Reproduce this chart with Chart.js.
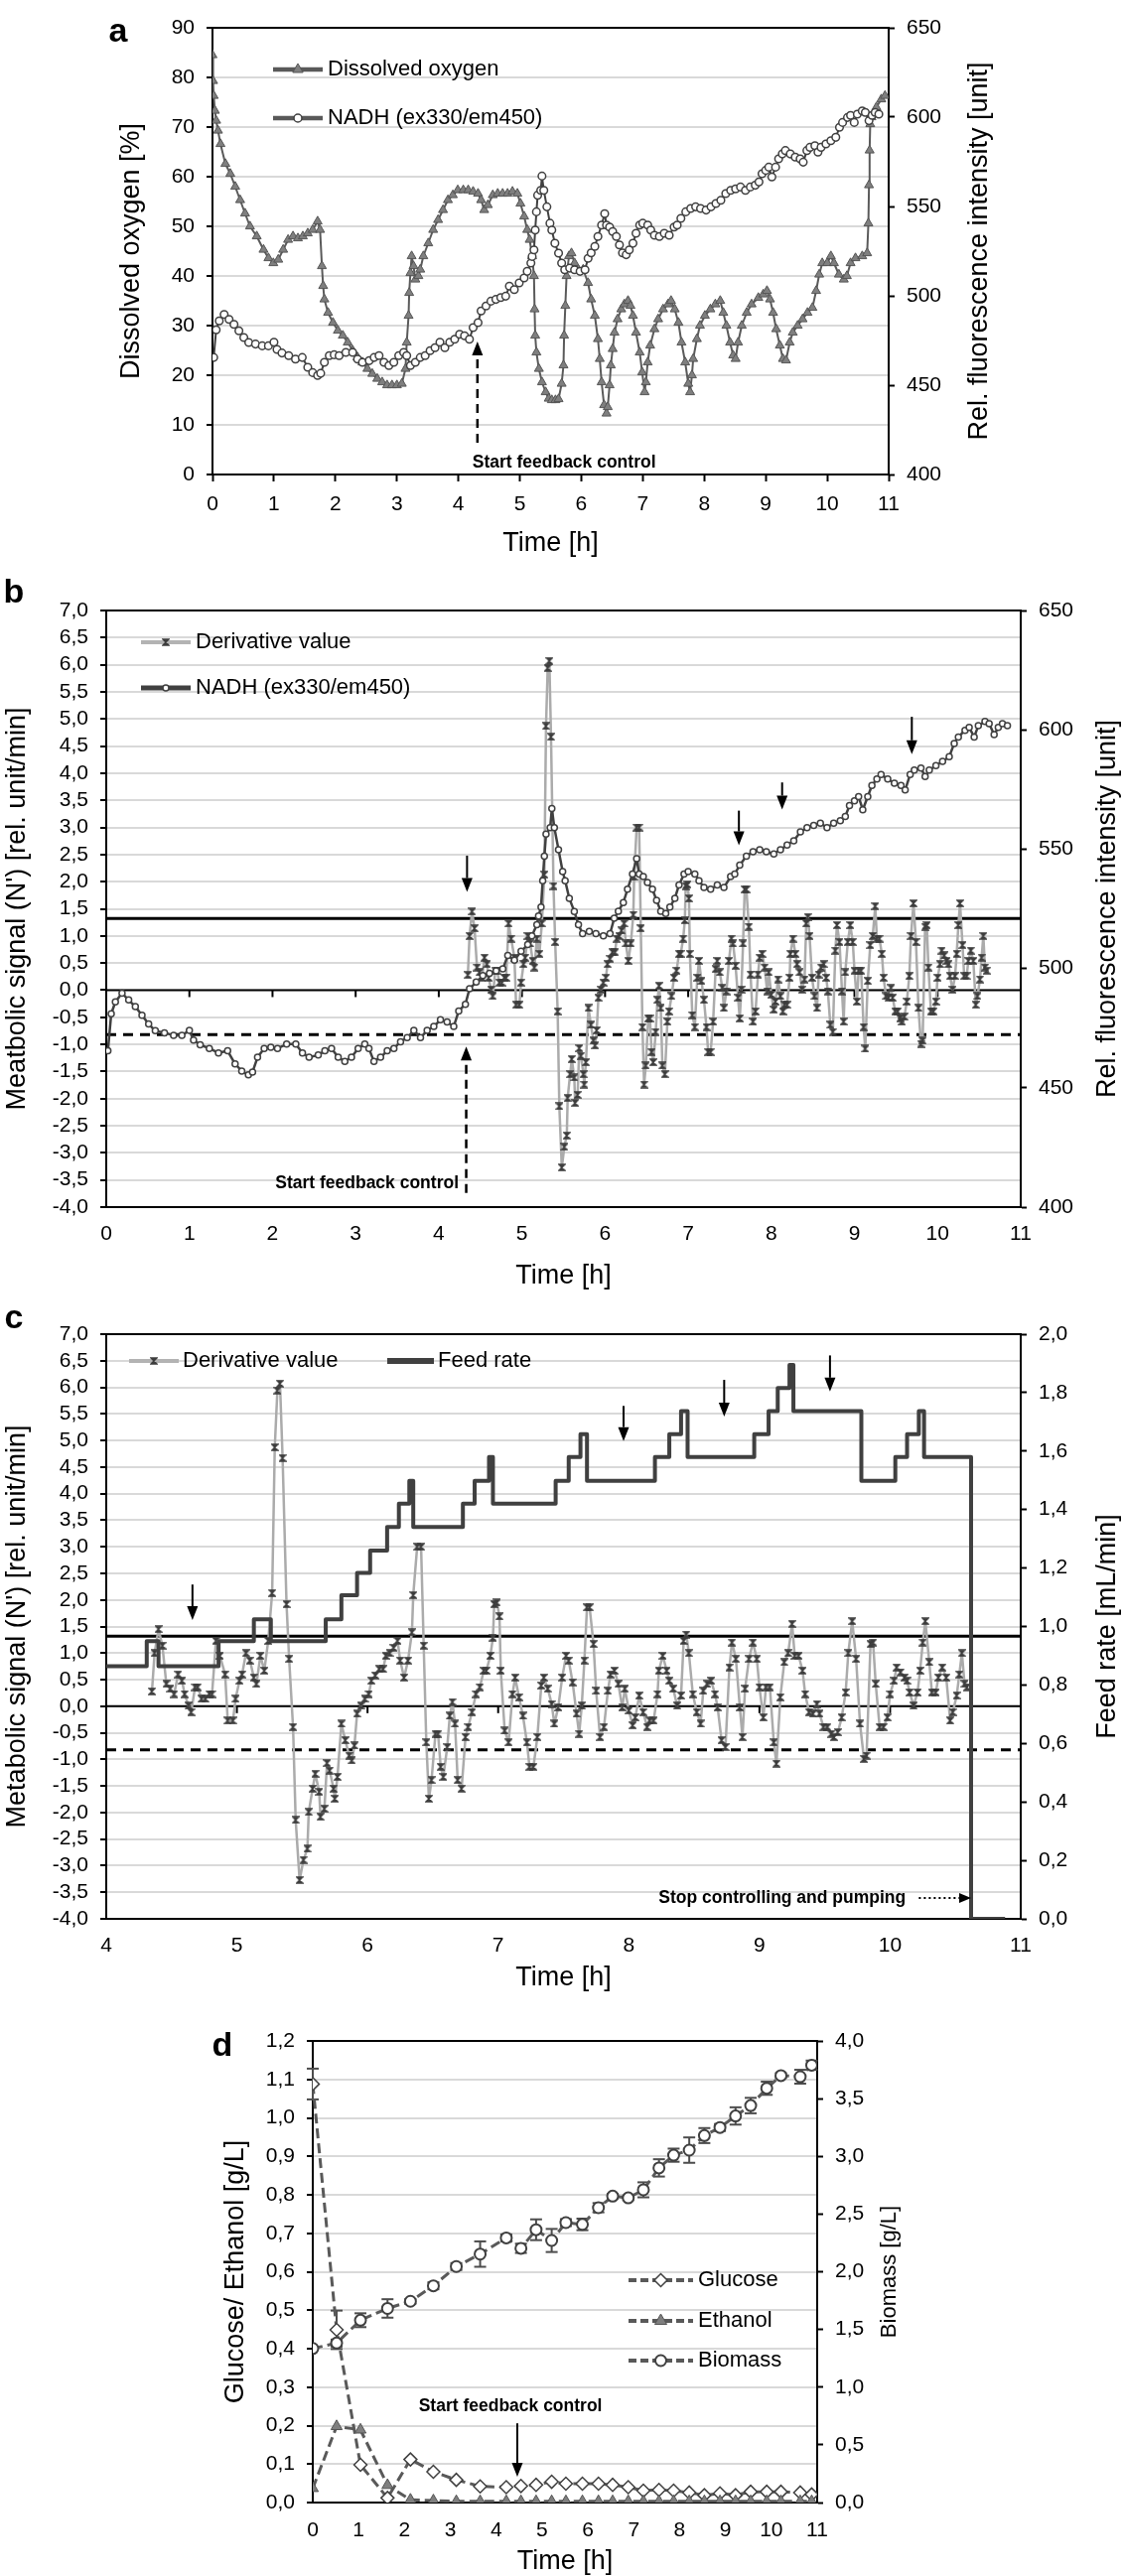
<!DOCTYPE html>
<html>
<head>
<meta charset="utf-8">
<title>Feedback control fermentation</title>
<script src="https://cdn.jsdelivr.net/npm/chart.js@4.4.1/dist/chart.umd.min.js"></script>
<style>
  html, body { margin:0; padding:0; background:#ffffff; }
  body { position:relative; width:1131px; height:2595px; overflow:hidden; }
  canvas { position:absolute; left:0; }
</style>
</head>
<body>
<canvas id="chartA" width="1131" height="580" style="top:0px"></canvas>
<canvas id="chartB" width="1131" height="760" style="top:560px"></canvas>
<canvas id="chartC" width="1131" height="720" style="top:1300px"></canvas>
<canvas id="chartD" width="1131" height="577" style="top:2020px"></canvas>
<script>
// ================= DATA =================
// Panel a: dissolved oxygen [%] vs time [h]
const doTime = [0.00,0.01,0.02,0.04,0.06,0.09,0.13,0.21,0.29,0.37,0.45,0.53,0.61,0.72,0.83,0.91,0.99,1.07,1.15,1.23,1.31,1.39,1.47,1.55,1.63,1.71,1.75,1.78,1.80,1.82,1.88,1.96,2.04,2.12,2.20,2.28,2.36,2.44,2.52,2.60,2.68,2.76,2.84,2.92,3.00,3.08,3.14,3.16,3.19,3.20,3.22,3.24,3.27,3.30,3.35,3.38,3.43,3.51,3.59,3.67,3.75,3.83,3.91,3.99,4.08,4.16,4.24,4.32,4.37,4.42,4.48,4.56,4.64,4.72,4.80,4.88,4.96,5.01,5.07,5.12,5.16,5.20,5.23,5.24,5.25,5.27,5.31,5.36,5.42,5.47,5.52,5.58,5.63,5.68,5.71,5.72,5.74,5.76,5.80,5.84,5.89,5.95,6.03,6.11,6.16,6.22,6.27,6.30,6.33,6.37,6.41,6.43,6.46,6.48,6.51,6.54,6.59,6.65,6.70,6.76,6.80,6.84,6.89,6.95,6.99,7.03,7.05,7.08,7.12,7.19,7.25,7.33,7.41,7.46,7.52,7.58,7.63,7.69,7.74,7.77,7.80,7.82,7.88,7.93,8.01,8.10,8.18,8.26,8.31,8.36,8.42,8.47,8.51,8.55,8.61,8.69,8.77,8.88,8.96,9.02,9.07,9.12,9.17,9.23,9.28,9.33,9.39,9.44,9.52,9.60,9.68,9.76,9.82,9.87,9.92,10.00,10.06,10.11,10.19,10.27,10.32,10.38,10.46,10.57,10.65,10.67,10.68,10.69,10.70,10.72,10.80,10.88,10.94];
const doValue = [84.5,79.3,76.3,73.3,71.3,69.3,66.6,62.6,60.6,58.0,55.3,52.6,50.0,48.0,45.3,43.6,42.6,43.3,45.3,47.3,48.0,47.6,48.0,48.6,49.3,51.0,49.3,42.0,38.0,35.3,32.6,30.6,29.0,28.0,26.6,25.0,23.6,22.6,21.3,20.3,19.3,18.6,18.0,18.0,18.0,18.3,21.3,26.6,32.0,36.6,40.6,44.0,42.0,39.3,40.0,41.3,44.0,46.6,49.3,51.3,53.3,55.3,56.3,57.3,57.3,57.3,57.0,56.6,55.3,53.3,54.3,56.3,56.6,56.6,56.6,57.0,56.6,54.6,52.0,49.3,47.3,44.0,40.0,33.3,28.0,24.6,21.3,18.6,16.6,15.3,15.0,15.0,15.2,18.3,22.0,28.0,34.0,40.0,44.0,44.6,42.6,41.3,41.3,38.6,35.3,32.0,27.3,23.3,18.6,14.0,12.3,13.6,18.0,22.0,25.3,28.6,31.3,33.3,34.3,35.0,34.0,32.0,28.6,24.6,20.6,16.6,18.6,22.6,26.0,29.3,31.3,33.3,34.3,35.0,33.3,30.6,26.6,22.6,18.3,16.6,20.0,23.3,27.3,30.0,32.0,33.3,34.3,35.0,32.6,30.0,26.6,24.0,23.3,26.6,30.0,32.6,34.3,35.6,36.3,37.0,35.3,32.6,29.3,26.0,23.3,23.0,26.6,28.6,30.0,31.3,32.6,33.6,37.0,40.3,42.6,42.6,44.0,42.6,40.3,39.3,40.0,42.6,43.6,44.0,44.6,50.6,58.3,65.3,70.6,72.0,74.0,75.6,76.3];

// Panels a & b: NADH fluorescence (ex330/em450) [unit]
const nadhTime = [0.02,0.06,0.11,0.19,0.27,0.35,0.43,0.51,0.59,0.70,0.81,0.91,1.00,1.05,1.13,1.24,1.35,1.46,1.55,1.63,1.71,1.76,1.82,1.90,1.98,2.06,2.17,2.28,2.36,2.44,2.55,2.63,2.71,2.79,2.87,2.95,3.03,3.11,3.16,3.22,3.30,3.38,3.46,3.54,3.62,3.70,3.78,3.86,3.94,4.02,4.10,4.18,4.24,4.32,4.37,4.45,4.53,4.61,4.69,4.77,4.83,4.91,4.99,5.07,5.12,5.18,5.20,5.23,5.25,5.27,5.29,5.34,5.36,5.39,5.44,5.49,5.52,5.57,5.63,5.68,5.73,5.81,5.89,5.98,6.06,6.11,6.16,6.22,6.27,6.33,6.38,6.41,6.46,6.51,6.57,6.62,6.67,6.73,6.78,6.84,6.89,6.95,7.00,7.08,7.13,7.19,7.27,7.35,7.43,7.51,7.56,7.62,7.70,7.78,7.86,7.94,8.03,8.11,8.19,8.27,8.35,8.43,8.51,8.59,8.67,8.75,8.83,8.89,8.94,9.00,9.05,9.10,9.16,9.21,9.27,9.32,9.40,9.48,9.56,9.61,9.67,9.72,9.80,9.85,9.90,9.98,10.06,10.14,10.20,10.25,10.33,10.38,10.44,10.49,10.57,10.62,10.68,10.73,10.78,10.84];
const nadhValue = [465.5,481,486,489.6,486.8,484,480.4,476.7,473.9,473,472,472,474,470,468,466.5,464.6,465.5,460,457,455.4,456.6,462.8,466.5,467,466.5,468.3,468.3,464.6,462.8,463.7,465.5,466.5,462.8,461,462.8,466.5,468.3,466.5,461,462.8,465.5,466.5,469.3,471,474,471,474,475.7,478.5,477.6,475.7,482.2,485,491.5,494.3,497,498,499,499.8,505.4,503.5,507.2,510,513.7,518.3,522,525.7,536.8,547,556.3,559,567,559,549.8,540.6,536.8,529.4,523.9,518.3,514.6,515.5,514.6,513.7,514.6,521,524,527.6,533.2,539.6,546,539.6,538.5,536,533.2,528.5,524,523,525.7,529.4,535,539.6,540.6,539.6,536.8,533.9,533.2,535,533.9,538.5,539.6,543.3,547,548.9,549.8,548.9,548,549.8,551.7,553.5,557.2,559,559.9,560.9,559,560.9,561.9,563.7,568.3,570.2,572,566.5,572,576.7,579.4,581.3,579.4,577.6,576.7,574.8,581.3,583.1,584,580.4,583.1,585,586.8,588.7,594.3,597,599.8,601,597,601.7,603.5,602.6,598,601,602.6,601.7];

// Panels b & c: derivative value N' [rel. unit/min]
const derivTime = [4.35,4.37,4.40,4.43,4.46,4.49,4.52,4.55,4.58,4.60,4.63,4.65,4.68,4.70,4.73,4.76,4.79,4.81,4.84,4.87,4.91,4.93,4.97,4.99,5.02,5.04,5.07,5.10,5.13,5.15,5.18,5.21,5.24,5.27,5.29,5.31,5.33,5.35,5.38,5.40,5.43,5.45,5.48,5.51,5.54,5.55,5.58,5.60,5.63,5.64,5.67,5.69,5.71,5.74,5.75,5.77,5.80,5.83,5.86,5.88,5.90,5.92,5.95,5.98,6.01,6.03,6.06,6.09,6.12,6.14,6.17,6.20,6.23,6.25,6.28,6.31,6.34,6.35,6.38,6.41,6.43,6.45,6.47,6.49,6.52,6.54,6.56,6.58,6.61,6.63,6.65,6.67,6.69,6.72,6.75,6.77,6.80,6.83,6.86,6.89,6.91,6.94,6.96,6.97,6.99,7.01,7.02,7.05,7.08,7.11,7.13,7.16,7.19,7.22,7.24,7.27,7.30,7.33,7.35,7.38,7.41,7.43,7.46,7.49,7.52,7.54,7.57,7.60,7.62,7.64,7.66,7.68,7.70,7.73,7.75,7.78,7.81,7.84,7.86,7.89,7.92,7.95,7.97,8.00,8.03,8.05,8.08,8.11,8.14,8.16,8.19,8.22,8.23,8.26,8.29,8.31,8.34,8.37,8.40,8.42,8.44,8.46,8.49,8.52,8.55,8.57,8.60,8.63,8.66,8.68,8.71,8.74,8.77,8.79,8.82,8.85,8.87,8.89,8.92,8.95,8.98,9.00,9.03,9.05,9.08,9.11,9.13,9.16,9.19,9.22,9.25,9.27,9.30,9.33,9.35,9.38,9.41,9.44,9.46,9.49,9.52,9.55,9.57,9.60,9.63,9.66,9.68,9.71,9.74,9.77,9.80,9.82,9.85,9.87,9.89,9.92,9.95,9.98,10.00,10.03,10.05,10.08,10.11,10.13,10.15,10.18,10.21,10.23,10.25,10.27,10.30,10.32,10.35,10.37,10.40,10.43,10.46,10.48,10.51,10.53,10.55,10.57,10.59];
const derivValue = [0.28,1.0,1.45,1.14,0.42,0.33,0.23,0.6,0.48,0.23,0.01,-0.11,0.36,0.36,0.14,0.14,0.23,0.23,1.23,0.95,0.6,-0.27,-0.27,0.14,0.48,0.6,1.0,0.86,0.54,0.42,0.95,0.67,1.23,2.13,4.87,5.94,6.07,4.67,1.92,0.89,-0.39,-2.14,-3.27,-2.89,-2.68,-1.99,-1.55,-1.27,-1.61,-2.08,-1.93,-1.07,-1.21,-1.55,-1.74,-1.33,-0.33,-0.64,-0.93,-1.02,-0.74,-0.14,0.01,0.14,0.23,0.48,0.58,0.7,0.7,0.95,1.0,1.1,1.23,0.86,0.54,0.86,1.39,2.09,3.0,3.0,1.14,-0.68,-1.74,-1.39,-0.52,-0.52,-1.14,-1.33,-0.77,-0.18,0.08,-0.33,-1.39,-1.55,-0.58,-0.39,-0.11,0.23,0.36,0.67,0.67,0.95,1.29,1.92,1.95,1.69,0.67,-0.46,-0.68,0.23,0.54,0.17,-0.18,-0.68,-1.14,-1.14,-0.58,0.39,0.54,0.33,0.04,-0.33,-0.02,0.54,0.95,0.86,0.45,-0.14,-0.52,0.01,0.86,1.86,1.86,1.17,0.29,-0.58,-0.39,0.29,0.6,0.67,0.42,-0.02,0.33,-0.08,-0.36,-0.21,0.2,-0.11,-0.39,-0.27,-0.27,0.23,0.67,0.95,0.67,0.48,0.33,0.01,0.2,1.23,1.35,1.0,0.23,-0.11,-0.33,0.29,0.42,0.48,0.23,-0.02,-0.64,-0.77,0.73,1.2,0.89,-0.02,-0.58,0.33,0.89,1.2,0.89,0.36,-0.21,0.36,0.36,-0.68,-1.08,0.17,0.83,1.0,1.55,0.95,0.95,0.67,0.23,-0.11,-0.14,0.04,-0.14,-0.39,-0.39,-0.52,-0.58,-0.49,-0.21,0.26,1.0,1.6,0.89,-0.33,-0.99,-0.93,1.17,1.2,0.42,-0.39,-0.39,-0.21,0.23,0.48,0.73,0.64,0.54,0.48,0.26,0.01,0.26,0.67,1.2,1.6,0.83,0.26,0.26,0.54,0.73,0.54,-0.27,-0.11,0.2,0.6,1.0,0.42,0.36];

// Panel c: feed rate [mL/min] (value holds from each time until the next)
const feedTime = [4.00,4.31,4.40,4.86,5.13,5.26,5.68,5.80,5.92,6.02,6.15,6.24,6.32,6.35,6.73,6.82,6.93,6.96,7.44,7.54,7.63,7.68,8.20,8.31,8.40,8.45,8.96,9.07,9.14,9.23,9.26,9.78,10.04,10.13,10.22,10.26,10.62,10.88];
const feedValue = [0.864,0.95,0.864,0.95,1.025,0.95,1.025,1.107,1.183,1.26,1.34,1.42,1.498,1.34,1.42,1.498,1.58,1.42,1.498,1.58,1.658,1.498,1.58,1.658,1.737,1.58,1.658,1.737,1.816,1.895,1.737,1.498,1.58,1.658,1.737,1.58,0,0];

// Panel d: offline samples
const sampleTime = [0,0.52,1.04,1.63,2.13,2.63,3.13,3.65,4.22,4.54,4.87,5.21,5.52,5.88,6.23,6.54,6.88,7.21,7.55,7.87,8.21,8.54,8.88,9.22,9.55,9.90,10.21,10.63,10.88];
const glucose = [1.088,0.449,0.098,0.012,0.112,0.080,0.059,0.042,0.040,0.043,0.046,0.054,0.049,0.049,0.049,0.046,0.040,0.031,0.033,0.031,0.026,0.019,0.024,0.019,0.028,0.028,0.028,0.026,0.021];
const glucoseErr = [0.04,0.05,0,0,0,0,0,0,0,0,0,0,0,0,0,0,0,0,0,0,0,0,0,0,0,0,0,0,0];
const ethanol = [0.037,0.198,0.189,0.045,0.007,0.005,0.003,0.003,0.003,0.003,0.003,0.003,0.003,0.003,0.003,0.003,0.003,0.003,0.003,0.003,0.003,0.003,0.003,0.003,0.003,0.003,0.003,0.003,0.003];
const biomass = [1.335,1.382,1.580,1.682,1.744,1.878,2.045,2.153,2.293,2.203,2.364,2.271,2.426,2.410,2.555,2.655,2.640,2.710,2.900,3.010,3.054,3.180,3.250,3.350,3.440,3.590,3.700,3.690,3.790];
const biomassErr = [0,0.03,0.06,0.08,0.02,0.03,0.03,0.11,0.03,0.04,0.09,0.10,0.03,0.05,0.04,0.02,0.02,0.065,0.075,0.057,0.11,0.065,0.03,0.075,0.067,0.057,0.02,0.06,0.04];

// Control thresholds on N'
const upperLimit = 1.32;
const lowerLimit = -0.82;

// ================= HELPERS =================
const FAM = 'Arial, "Liberation Sans", Helvetica, sans-serif';
Chart.defaults.font.family = FAM;
Chart.defaults.color = '#000';
const comma1 = v => Number(v).toFixed(1).replace('.', ',');
const plain = v => String(Math.round(v));
const xy = (xs, ys) => xs.map((x, i) => ({ x: x, y: ys[i] }));

const hourglass = (() => {
  const c = document.createElement('canvas'); c.width = 8; c.height = 8;
  const g = c.getContext('2d');
  g.fillStyle = '#3c3c3c'; g.strokeStyle = '#3c3c3c'; g.lineWidth = 1.3;
  g.beginPath(); g.moveTo(1, 1); g.lineTo(7, 1); g.lineTo(1, 7); g.lineTo(7, 7); g.closePath(); g.stroke();
  g.beginPath(); g.moveTo(1, 1); g.lineTo(7, 1); g.lineTo(4, 4); g.closePath(); g.fill();
  g.beginPath(); g.moveTo(1, 7); g.lineTo(7, 7); g.lineTo(4, 4); g.closePath(); g.fill();
  return c;
})();

function xAxis(min, max, height, tickLen, tickPad, titlePad) {
  return {
    type: 'linear', position: 'bottom', min: min, max: max,
    ticks: { stepSize: 1, autoSkip: false, maxRotation: 0, minRotation: 0, color: '#000', font: { size: 21 }, padding: tickPad, callback: v => String(v) },
    grid: { display: true, drawOnChartArea: false, drawTicks: tickLen > 0, tickLength: tickLen, tickColor: '#000', tickWidth: 2, color: '#000' },
    border: { display: true, color: '#000', width: 2 },
    title: { display: true, text: 'Time [h]', color: '#000', font: { size: 27 }, padding: { top: 0, bottom: titlePad } },
    afterFit: s => { s.height = height; }
  };
}
function leftAxis(min, max, step, width, fmt, title, titleX, titleSize) {
  return {
    type: 'linear', position: 'left', min: min, max: max,
    ticks: { stepSize: step, autoSkip: false, color: '#000', font: { size: 21 }, padding: 12, callback: fmt },
    grid: { display: true, drawOnChartArea: true, color: '#d9d9d9', lineWidth: 2, drawTicks: true, tickLength: 6, tickColor: '#000', tickWidth: 2 },
    border: { display: true, color: '#000', width: 2 },
    title: { display: true, text: title, color: '#000', font: { size: titleSize }, padding: { top: titleX - titleSize * 0.6, bottom: 0 } },
    afterFit: s => { s.width = width; }
  };
}
function rightAxis(min, max, step, width, fmt) {
  return {
    type: 'linear', position: 'right', min: min, max: max,
    ticks: { stepSize: step, autoSkip: false, color: '#000', font: { size: 21 }, padding: 12, callback: fmt },
    grid: { display: true, drawOnChartArea: false, drawTicks: true, tickLength: 6, tickColor: '#000', tickWidth: 2, color: '#000' },
    border: { display: true, color: '#000', width: 2 },
    afterFit: s => { s.width = width; }
  };
}
function common(top) {
  return {
    responsive: false, animation: false, events: [],
    layout: { padding: { top: top, left: 0, right: 0, bottom: 0 } },
    plugins: { legend: { display: false }, tooltip: { enabled: false } },
    elements: { line: { tension: 0, borderJoinStyle: 'round' } }
  };
}
function seg(ctx, x1, y1, x2, y2) { ctx.beginPath(); ctx.moveTo(x1, y1); ctx.lineTo(x2, y2); ctx.stroke(); }
function drawMarker(ctx, m, x, y) {
  ctx.save();
  if (m.style === 'image') { ctx.drawImage(m.img, x - m.img.width / 2, y - m.img.height / 2); ctx.restore(); return; }
  ctx.fillStyle = m.fill; ctx.strokeStyle = m.stroke; ctx.lineWidth = m.bw;
  ctx.beginPath();
  if (m.style === 'circle') ctx.arc(x, y, m.r, 0, Math.PI * 2);
  else if (m.style === 'triangle') { ctx.moveTo(x, y - m.r); ctx.lineTo(x + m.r * 0.866, y + m.r * 0.5); ctx.lineTo(x - m.r * 0.866, y + m.r * 0.5); ctx.closePath(); }
  else if (m.style === 'diamond') { ctx.moveTo(x, y - m.r); ctx.lineTo(x + m.r, y); ctx.lineTo(x, y + m.r); ctx.lineTo(x - m.r, y); ctx.closePath(); }
  ctx.fill(); if (m.bw) ctx.stroke();
  ctx.restore();
}
function drawArrow(ctx, x1, y1, x2, y2, o) {
  const ang = Math.atan2(y2 - y1, x2 - x1);
  const hl = o.hl || 14, hw = o.hw || 11;
  const bx = x2 - Math.cos(ang) * hl, by = y2 - Math.sin(ang) * hl;
  ctx.save();
  ctx.strokeStyle = '#000'; ctx.fillStyle = '#000'; ctx.lineWidth = o.w || 2;
  ctx.setLineDash(o.dash || []);
  seg(ctx, x1, y1, bx, by);
  ctx.setLineDash([]);
  ctx.beginPath(); ctx.moveTo(x2, y2);
  ctx.lineTo(bx + Math.sin(ang) * hw / 2, by - Math.cos(ang) * hw / 2);
  ctx.lineTo(bx - Math.sin(ang) * hw / 2, by + Math.cos(ang) * hw / 2);
  ctx.closePath(); ctx.fill();
  ctx.restore();
}

function decor(o) {
  return {
    id: 'decor',
    beforeDatasetsDraw(chart) {
      const ctx = chart.ctx, ca = chart.chartArea, xs = chart.scales.x, ys = chart.scales.y;
      ctx.save();
      ctx.strokeStyle = '#000';
      (o.hlines || []).forEach(h => {
        const y = ys.getPixelForValue(h.v);
        ctx.lineWidth = h.w; ctx.setLineDash(h.dash || []);
        seg(ctx, ca.left, y, ca.right, y);
      });
      ctx.setLineDash([]);
      if (o.zeroTicks) {
        const y0 = ys.getPixelForValue(0); ctx.lineWidth = 2;
        o.zeroTicks.forEach(t => { const x = xs.getPixelForValue(t); seg(ctx, x, y0, x, y0 + 7); });
      }
      ctx.lineWidth = 2;
      seg(ctx, ca.left - 1, ca.top, ca.right + 1, ca.top);
      seg(ctx, ca.left - 1, ca.bottom, ca.right + 1, ca.bottom);
      seg(ctx, ca.left, ca.top, ca.left, ca.bottom);
      seg(ctx, ca.right, ca.top, ca.right, ca.bottom);
      chart.data.datasets.forEach((ds, i) => {
        if (!ds.errors) return;
        const meta = chart.getDatasetMeta(i), sc = chart.scales[ds.yAxisID];
        ctx.strokeStyle = '#4d4d4d'; ctx.lineWidth = 2;
        ds.data.forEach((p, j) => {
          const e = ds.errors[j]; if (!e) return;
          const x = meta.data[j].x, y1 = sc.getPixelForValue(p.y + e), y2 = sc.getPixelForValue(p.y - e);
          seg(ctx, x, y1, x, y2); seg(ctx, x - 6, y1, x + 6, y1); seg(ctx, x - 6, y2, x + 6, y2);
        });
      });
      ctx.restore();
    },
    afterDatasetsDraw(chart) {
      const ctx = chart.ctx, xs = chart.scales.x;
      (o.arrows || []).forEach(a => {
        const sc = chart.scales[a.axis || 'y'];
        const x = xs.getPixelForValue(a.x);
        drawArrow(ctx, x, sc.getPixelForValue(a.y1), x, sc.getPixelForValue(a.y2), a);
      });
      (o.hArrows || []).forEach(a => {
        const sc = chart.scales[a.axis || 'y'];
        const y = sc.getPixelForValue(a.y);
        drawArrow(ctx, xs.getPixelForValue(a.x1), y, xs.getPixelForValue(a.x2), y, a);
      });
      (o.texts || []).forEach(t => {
        const sc = chart.scales[t.axis || 'y'];
        ctx.save();
        ctx.font = t.font; ctx.fillStyle = '#000'; ctx.textAlign = t.align; ctx.textBaseline = 'middle';
        ctx.fillText(t.text, xs.getPixelForValue(t.x), sc.getPixelForValue(t.y));
        ctx.restore();
      });
    },
    afterDraw(chart) {
      const ctx = chart.ctx, ca = chart.chartArea;
      if (o.rightTitle) {
        const r = o.rightTitle;
        ctx.save();
        ctx.translate(r.x, (ca.top + ca.bottom) / 2); ctx.rotate(-Math.PI / 2);
        ctx.font = r.size + 'px ' + FAM; ctx.fillStyle = '#000'; ctx.textAlign = 'center'; ctx.textBaseline = 'middle';
        ctx.fillText(r.text, 0, 0);
        ctx.restore();
      }
      (o.legend || []).forEach(it => {
        const y = it.y - o.top;
        ctx.save();
        ctx.strokeStyle = it.color; ctx.lineWidth = it.w; ctx.setLineDash(it.dash || []);
        seg(ctx, it.x1, y, it.x2, y);
        ctx.setLineDash([]);
        if (it.marker) drawMarker(ctx, it.marker, (it.x1 + it.x2) / 2, y);
        ctx.font = '22px ' + FAM; ctx.fillStyle = '#000'; ctx.textAlign = 'left'; ctx.textBaseline = 'middle';
        ctx.fillText(it.text, it.tx, y);
        ctx.restore();
      });
      if (o.letter) {
        ctx.save();
        ctx.font = 'bold 34px ' + FAM; ctx.fillStyle = '#000'; ctx.textAlign = 'center'; ctx.textBaseline = 'alphabetic';
        ctx.fillText(o.letter.text, o.letter.x, o.letter.y - o.top);
        ctx.restore();
      }
    }
  };
}

const BOLD = 'bold 17.5px ' + FAM;
const mkTri = { style: 'triangle', r: 6, fill: '#7f7f7f', stroke: '#555555', bw: 1 };
const mkCirc = { style: 'circle', r: 4, fill: '#ffffff', stroke: '#404040', bw: 1.5 };
const mkHour = { style: 'image', img: hourglass };

// ================= PANEL A =================
new Chart(document.getElementById('chartA'), {
  type: 'line',
  data: { datasets: [
    { label: 'NADH (ex330/em450)', data: xy(nadhTime, nadhValue), yAxisID: 'y2', order: 0,
      borderColor: '#404040', borderWidth: 2, pointStyle: 'circle', pointRadius: 3.8,
      pointBackgroundColor: '#ffffff', pointBorderColor: '#404040', pointBorderWidth: 1.5 },
    { label: 'Dissolved oxygen', data: xy(doTime, doValue), yAxisID: 'y', order: 1,
      borderColor: '#5a5a5a', borderWidth: 2, pointStyle: 'triangle', pointRadius: 5.2,
      pointBackgroundColor: '#7f7f7f', pointBorderColor: '#555555', pointBorderWidth: 1 }
  ]},
  options: Object.assign(common(28), { scales: {
    x: xAxis(0, 11, 102, 7, 10.4, 15.8),
    y: leftAxis(0, 90, 10, 214, plain, 'Dissolved oxygen [%]', 133, 27),
    y2: rightAxis(400, 650, 50, 236, plain)
  }}),
  plugins: [decor({
    top: 0,
    letter: { text: 'a', x: 119, y: 42 },
    rightTitle: { text: 'Rel. fluorescence intensity [unit]', x: 987, size: 27 },
    legend: [
      { x1: 275, x2: 325, y: 70, tx: 330, text: 'Dissolved oxygen', color: '#595959', w: 4.5, marker: mkTri },
      { x1: 275, x2: 325, y: 119, tx: 330, text: 'NADH (ex330/em450)', color: '#595959', w: 4.5, marker: mkCirc }
    ],
    arrows: [ { x: 4.31, y1: 6.4, y2: 26.8, axis: 'y', dash: [9, 6], w: 2.5 } ],
    texts: [ { x: 5.72, y: 2.4, axis: 'y', text: 'Start feedback control', align: 'center', font: BOLD } ]
  })]
});

// ================= PANEL B =================
new Chart(document.getElementById('chartB'), {
  type: 'line',
  data: { datasets: [
    { label: 'NADH (ex330/em450)', data: xy(nadhTime, nadhValue), yAxisID: 'y2', order: 0,
      borderColor: '#404040', borderWidth: 2.5, pointStyle: 'circle', pointRadius: 3,
      pointBackgroundColor: '#ffffff', pointBorderColor: '#404040', pointBorderWidth: 1.5 },
    { label: 'Derivative value', data: xy(derivTime, derivValue), yAxisID: 'y', order: 1,
      borderColor: '#ababab', borderWidth: 2.5, pointStyle: hourglass, pointRadius: 4 }
  ]},
  options: Object.assign(common(55), { scales: {
    x: xAxis(0, 11, 104, 0, 14.4, 17.8),
    y: leftAxis(-4, 7, 0.5, 107, comma1, "Meatbolic signal (N') [rel. unit/min]", 18, 27),
    y2: rightAxis(400, 650, 50, 103, plain)
  }}),
  plugins: [decor({
    top: 560,
    letter: { text: 'b', x: 14, y: 607 },
    rightTitle: { text: 'Rel. fluorescence intensity [unit]', x: 1116, size: 27 },
    hlines: [ { v: upperLimit, w: 3 }, { v: 0, w: 2 }, { v: lowerLimit, w: 3, dash: [10, 7] } ],
    zeroTicks: [1, 2, 3, 4, 5, 6, 7, 8, 9, 10],
    legend: [
      { x1: 142, x2: 192, y: 647, tx: 197, text: 'Derivative value', color: '#b3b3b3', w: 4, marker: mkHour },
      { x1: 142, x2: 192, y: 693, tx: 197, text: 'NADH (ex330/em450)', color: '#404040', w: 5, marker: { style: 'circle', r: 3, fill: '#ffffff', stroke: '#404040', bw: 1.5 } }
    ],
    arrows: [
      { x: 4.33, y1: -3.74, y2: -1.04, axis: 'y', dash: [9, 6], w: 2.5 },
      { x: 4.34, y1: 2.48, y2: 1.81, axis: 'y', w: 2 },
      { x: 7.61, y1: 3.31, y2: 2.67, axis: 'y', w: 2 },
      { x: 8.13, y1: 3.83, y2: 3.33, axis: 'y', w: 2 },
      { x: 9.69, y1: 5.04, y2: 4.35, axis: 'y', w: 2 }
    ],
    texts: [ { x: 4.24, y: -3.56, axis: 'y', text: 'Start feedback control', align: 'right', font: BOLD } ]
  })]
});

// ================= PANEL C =================
new Chart(document.getElementById('chartC'), {
  type: 'line',
  data: { datasets: [
    { label: 'Feed rate', data: xy(feedTime, feedValue), yAxisID: 'y2', order: 0, stepped: true,
      borderColor: '#404040', borderWidth: 4, pointRadius: 0 },
    { label: 'Derivative value', data: xy(derivTime, derivValue), yAxisID: 'y', order: 1,
      borderColor: '#ababab', borderWidth: 2.5, pointStyle: hourglass, pointRadius: 4 }
  ]},
  options: Object.assign(common(44), { scales: {
    x: xAxis(4, 11, 87, 0, 14.4, 10.8),
    y: leftAxis(-4, 7, 0.5, 107, comma1, "Metabolic signal (N') [rel. unit/min]", 18, 27),
    y2: rightAxis(0, 2, 0.2, 103, comma1)
  }}),
  plugins: [decor({
    top: 1300,
    letter: { text: 'c', x: 14, y: 1338 },
    rightTitle: { text: 'Feed rate [mL/min]', x: 1116, size: 27 },
    hlines: [ { v: upperLimit, w: 3 }, { v: 0, w: 2 }, { v: lowerLimit, w: 3, dash: [10, 7] } ],
    zeroTicks: [5, 6, 7, 8, 9, 10],
    legend: [
      { x1: 130, x2: 180, y: 1371, tx: 184, text: 'Derivative value', color: '#b3b3b3', w: 4, marker: mkHour },
      { x1: 390, x2: 437, y: 1371, tx: 441, text: 'Feed rate', color: '#404040', w: 6 }
    ],
    arrows: [
      { x: 4.66, y1: 2.29, y2: 1.62, axis: 'y', w: 2 },
      { x: 7.96, y1: 5.65, y2: 4.99, axis: 'y', w: 2 },
      { x: 8.73, y1: 6.14, y2: 5.45, axis: 'y', w: 2 },
      { x: 9.54, y1: 6.60, y2: 5.92, axis: 'y', w: 2 }
    ],
    hArrows: [ { x1: 10.22, x2: 10.62, y: -3.61, axis: 'y', dash: [2, 3], w: 2, hl: 12, hw: 10 } ],
    texts: [ { x: 10.12, y: -3.61, axis: 'y', text: 'Stop controlling and pumping', align: 'right', font: BOLD } ]
  })]
});

// ================= PANEL D =================
new Chart(document.getElementById('chartD'), {
  type: 'line',
  data: { datasets: [
    { label: 'Biomass', data: xy(sampleTime, biomass), errors: biomassErr, yAxisID: 'y2', order: 0,
      borderColor: '#595959', borderWidth: 3, borderDash: [10, 5], pointStyle: 'circle', pointRadius: 5.5,
      pointBackgroundColor: '#ffffff', pointBorderColor: '#404040', pointBorderWidth: 2 },
    { label: 'Ethanol', data: xy(sampleTime, ethanol), yAxisID: 'y', order: 1,
      borderColor: '#595959', borderWidth: 3, borderDash: [10, 5], pointStyle: 'triangle', pointRadius: 6.5,
      pointBackgroundColor: '#7f7f7f', pointBorderColor: '#555555', pointBorderWidth: 1 },
    { label: 'Glucose', data: xy(sampleTime, glucose), errors: glucoseErr, yAxisID: 'y', order: 2,
      borderColor: '#595959', borderWidth: 3, borderDash: [10, 5], pointStyle: 'rectRot', pointRadius: 6.5,
      pointBackgroundColor: '#ffffff', pointBorderColor: '#404040', pointBorderWidth: 1.5 }
  ]},
  options: Object.assign(common(36), { scales: {
    x: xAxis(0, 11, 76, 0, 15.4, 0),
    y: leftAxis(0, 1.2, 0.1, 315, comma1, 'Glucose/ Ethanol [g/L]', 238, 27),
    y2: rightAxis(0, 4, 0.5, 308, comma1)
  }}),
  plugins: [decor({
    top: 2020,
    letter: { text: 'd', x: 224, y: 2071 },
    rightTitle: { text: 'Biomass [g/L]', x: 896, size: 22 },
    legend: [
      { x1: 633, x2: 698, y: 2297, tx: 703, text: 'Glucose', color: '#595959', w: 4, dash: [8, 4], marker: { style: 'diamond', r: 6.5, fill: '#ffffff', stroke: '#404040', bw: 1.5 } },
      { x1: 633, x2: 698, y: 2338, tx: 703, text: 'Ethanol', color: '#595959', w: 4, dash: [8, 4], marker: { style: 'triangle', r: 7, fill: '#7f7f7f', stroke: '#555555', bw: 1 } },
      { x1: 633, x2: 698, y: 2378, tx: 703, text: 'Biomass', color: '#595959', w: 4, dash: [8, 4], marker: { style: 'circle', r: 5.5, fill: '#ffffff', stroke: '#404040', bw: 2 } }
    ],
    arrows: [ { x: 4.46, y1: 0.206, y2: 0.067, axis: 'y', w: 2 } ],
    texts: [ { x: 4.31, y: 0.25, axis: 'y', text: 'Start feedback control', align: 'center', font: BOLD } ]
  })]
});
</script>
</body>
</html>
